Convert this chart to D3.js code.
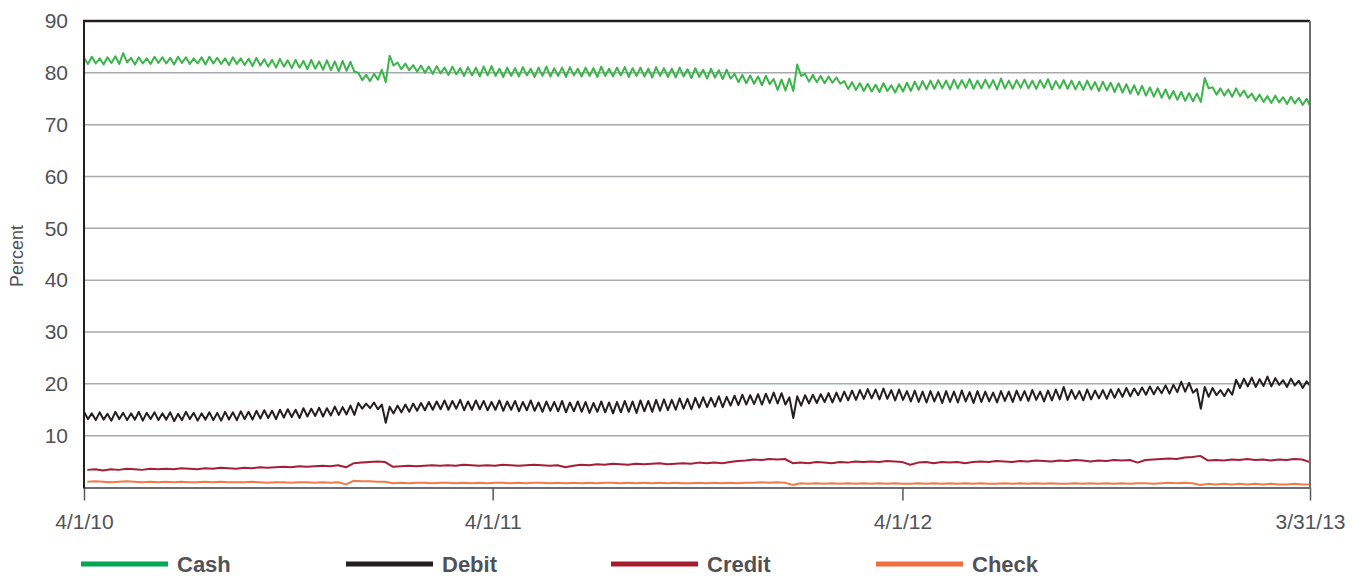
<!DOCTYPE html>
<html>
<head>
<meta charset="utf-8">
<script src="https://cdn.jsdelivr.net/npm/d3@7"></script>
<style>
  body { margin: 0; background: #fff; }
  svg text { font-family: "Liberation Sans Narrow", "Liberation Sans", sans-serif; fill: #505257; }
</style>
</head>
<body>
<div id="chart"></div>
<script>
// weekly readings, Apr 2010 - Mar 2013 (157 weeks)
// cash and debit: one high and one low per week
var cashHi = [
  82.9, 83.1, 82.8, 83.0, 83.2, 83.8, 82.9, 83.0, 82.8, 83.1,
  83.0, 82.9, 83.1, 83.0, 82.8, 83.0, 83.1, 82.9, 82.8, 83.0,
  82.8, 82.7, 82.9, 82.6, 82.5, 82.7, 82.4, 82.5, 82.3, 82.5,
  82.2, 82.4, 82.2, 82.3, 82.1, 80.0, 79.6, 79.8, 80.6, 83.3,
  82.0, 81.8, 81.5, 81.4, 81.2, 81.3, 81.0, 81.2, 80.9, 81.1,
  81.0, 81.2, 81.3, 80.8, 81.0, 80.9, 81.1, 80.8, 81.0, 81.2,
  80.9, 81.0, 81.1, 80.8, 81.0, 80.9, 81.2, 80.8, 81.0, 81.1,
  80.9, 81.0, 80.8, 81.1, 80.9, 80.8, 81.0, 80.7, 80.9, 80.6,
  80.8, 80.5, 80.6, 79.8, 79.6, 79.5, 79.3, 79.4, 78.8, 78.7,
  78.9, 81.6, 79.8, 79.6, 79.4, 79.3, 79.1, 78.4, 78.2, 78.0,
  77.9, 77.7, 78.0, 77.6, 77.8, 78.1, 78.3, 78.4, 78.5, 78.6,
  78.5, 78.7, 78.6, 78.8, 78.5, 78.7, 78.6, 78.9, 78.5, 78.6,
  78.7, 78.5, 78.6, 78.8, 78.4, 78.6, 78.5, 78.3, 78.5, 78.2,
  78.3, 78.1, 78.0, 77.8, 77.6, 77.5, 77.2, 77.0, 76.8, 76.5,
  76.3, 76.1, 76.0, 79.0, 77.2, 77.0, 76.8, 77.0, 76.6, 76.0,
  75.8, 75.5, 75.6, 75.3, 75.4, 75.2, 75.0
];
var cashLo = [
  81.7, 81.8, 81.6, 81.9, 81.7, 82.0, 81.6, 81.8, 81.7, 81.9,
  81.8, 81.6, 81.9, 81.7, 81.8, 81.6, 81.8, 81.7, 81.5, 81.7,
  81.5, 81.3, 81.4, 81.2, 81.0, 81.2, 80.9, 81.0, 80.7, 80.8,
  80.6, 80.5, 80.3, 80.4, 80.2, 78.6, 78.4, 78.7, 78.2, 81.4,
  80.7, 80.5, 80.2, 80.0, 79.8, 79.9, 79.6, 79.7, 79.4, 79.5,
  79.3, 79.5, 79.4, 79.2, 79.4, 79.3, 79.5, 79.2, 79.4, 79.3,
  79.4, 79.2, 79.5, 79.3, 79.4, 79.2, 79.4, 79.3, 79.5, 79.2,
  79.4, 79.3, 79.1, 79.4, 79.2, 79.1, 79.3, 79.0, 79.2, 78.9,
  79.1, 78.8, 78.9, 78.2, 78.0, 77.9, 77.6, 77.8, 76.7, 76.6,
  76.5, 79.4, 78.3, 78.2, 78.0, 78.1, 77.9, 76.9, 76.7, 76.5,
  76.4, 76.3, 76.5, 76.2, 76.4, 76.5, 76.7, 76.8, 76.9, 77.0,
  76.8, 77.0, 77.1, 76.9, 77.0, 77.1, 76.8, 77.0, 76.9, 77.1,
  77.0, 76.9, 77.1, 76.8, 77.0, 76.9, 76.8, 76.7, 76.8, 76.5,
  76.6, 76.3, 76.2, 76.0, 75.8, 75.6, 75.4, 75.2, 75.0, 74.8,
  74.6, 74.5, 74.4, 77.0, 75.8, 75.6, 75.4, 75.5, 75.2, 74.6,
  74.4, 74.2, 74.3, 74.0, 74.1, 73.8, 73.6
];
var debitHi = [
  14.6, 14.3, 14.5, 14.2, 14.6, 14.4, 14.3, 14.6, 14.4, 14.5,
  14.3, 14.5, 14.2, 14.6, 14.4, 14.3, 14.5, 14.4, 14.6, 14.5,
  14.7, 14.6, 14.8, 14.9, 14.8, 15.0, 15.1, 15.0, 15.3, 15.2,
  15.4, 15.3, 15.6, 15.5, 15.8, 16.3, 16.2, 16.4, 16.0, 15.6,
  15.8, 16.0, 16.2, 16.3, 16.5, 16.6, 16.8, 16.7, 16.9, 16.6,
  16.8, 16.7, 16.5, 16.8, 16.6, 16.7, 16.5, 16.8, 16.4, 16.6,
  16.5, 16.7, 16.4, 16.6, 16.5, 16.3, 16.6, 16.4, 16.5, 16.7,
  16.6, 16.8, 16.7, 16.9, 17.0, 16.9, 17.2, 17.1, 17.3, 17.4,
  17.3, 17.6, 17.5, 17.7, 17.9, 17.8, 18.0, 18.1, 18.3, 18.2,
  17.4, 17.6, 17.8, 17.9, 18.0, 18.2, 18.3, 18.5, 18.7, 18.8,
  19.0, 18.9, 19.1, 18.8, 18.9, 18.6, 18.7, 18.5, 18.6, 18.4,
  18.6, 18.5, 18.7, 18.4, 18.6, 18.5, 18.3, 18.6, 18.5, 18.7,
  18.6, 18.8, 18.5, 18.7, 18.9, 19.4, 18.8, 18.6, 18.9, 18.7,
  18.8, 18.9, 19.0, 19.2, 19.1, 19.3, 19.5, 19.4, 19.7, 19.8,
  20.4, 20.2, 19.0, 19.4, 19.2, 18.8, 19.0, 20.8, 21.0, 21.2,
  20.9, 21.4, 21.1, 20.7, 21.0, 20.6, 20.5
];
var debitLo = [
  13.2, 13.0, 13.1, 12.9, 13.2, 13.0, 13.1, 12.9, 13.2, 13.0,
  13.1, 12.8, 13.0, 13.2, 12.9, 13.1, 13.0, 12.9, 13.1, 13.0,
  13.2, 13.1, 13.3, 13.4, 13.2, 13.5, 13.6, 13.4, 13.7, 13.8,
  13.7, 13.9, 14.0, 14.1, 14.0, 15.2, 15.3, 15.1, 12.5, 14.3,
  14.5, 14.6, 14.8, 14.9, 15.0, 15.1, 15.0, 15.2, 14.9, 15.0,
  15.1, 14.9, 15.0, 14.8, 15.0, 14.7, 14.9, 14.8, 14.6, 14.8,
  14.7, 14.5, 14.7, 14.6, 14.4, 14.6, 14.5, 14.3, 14.5, 14.6,
  14.4, 14.7, 14.6, 14.8, 14.9, 15.0, 15.2, 15.1, 15.4, 15.5,
  15.6, 15.5, 15.8, 15.9, 16.0, 16.1, 16.0, 16.3, 16.2, 16.0,
  13.4, 15.8, 16.2, 16.3, 16.5, 16.4, 16.6, 16.8, 16.9, 17.1,
  17.2, 17.0, 17.1, 16.8, 16.9, 16.6, 16.5, 16.4, 16.6, 16.3,
  16.5, 16.4, 16.6, 16.3, 16.5, 16.6, 16.4, 16.7, 16.5, 16.8,
  16.7, 16.9, 16.6, 16.8, 17.0, 16.9, 17.1, 16.8, 17.0, 17.2,
  17.1, 17.3, 17.5, 17.6, 17.8, 17.9, 18.0, 18.2, 18.1, 18.4,
  18.5, 18.3, 15.2, 17.5, 17.8, 17.6, 17.9, 19.2, 19.5, 19.4,
  19.6, 19.5, 19.8, 19.4, 19.7, 19.2, 19.6
];
// credit and check: one reading per week
var credit = [
  3.4, 3.5, 3.3, 3.5, 3.4, 3.6, 3.5, 3.4, 3.6, 3.5,
  3.6, 3.5, 3.7, 3.6, 3.5, 3.7, 3.6, 3.8, 3.7, 3.6,
  3.8, 3.7, 3.9, 3.8, 3.9, 4.0, 3.9, 4.1, 4.0, 4.1,
  4.2, 4.1, 4.3, 3.9, 4.7, 4.8, 4.9, 5.0, 4.9, 4.0,
  4.1, 4.2, 4.1, 4.2, 4.3, 4.2, 4.3, 4.2, 4.4, 4.3,
  4.2, 4.3, 4.2, 4.4, 4.3, 4.2, 4.3, 4.4, 4.3, 4.2,
  4.3, 3.9, 4.2, 4.4, 4.3, 4.5, 4.4, 4.6, 4.5, 4.4,
  4.6, 4.5, 4.6, 4.7, 4.5, 4.6, 4.7, 4.6, 4.8, 4.7,
  4.8, 4.7, 4.9, 5.1, 5.2, 5.4, 5.3, 5.5, 5.4, 5.5,
  4.7, 4.8, 4.7, 4.9, 4.8, 4.7, 4.9, 4.8, 5.0, 4.9,
  5.0, 4.9, 5.1, 5.0, 4.9, 4.4, 4.8, 4.9, 4.7, 4.9,
  4.8, 4.9, 4.7, 4.9, 5.0, 4.9, 5.1, 5.0, 4.9, 5.1,
  5.0, 5.2, 5.1, 5.0, 5.2, 5.1, 5.3, 5.2, 5.0, 5.2,
  5.1, 5.3, 5.2, 5.3, 4.8, 5.3, 5.4, 5.5, 5.6, 5.5,
  5.8, 5.9, 6.1, 5.2, 5.3, 5.2, 5.4, 5.3, 5.5, 5.3,
  5.4, 5.2, 5.4, 5.3, 5.5, 5.4, 4.9
];
var check = [
  1.1, 1.2, 1.1, 1.0, 1.1, 1.2, 1.1, 1.0, 1.1, 1.0,
  1.1, 1.0, 1.1, 1.0, 1.0, 1.1, 1.0, 1.1, 1.0, 1.0,
  1.0, 1.1, 1.0, 0.9, 1.0, 1.0, 0.9, 1.0, 1.0, 0.9,
  1.0, 0.9, 1.0, 0.6, 1.3, 1.2, 1.2, 1.1, 1.1, 0.8,
  0.9, 0.8, 0.9, 0.9, 0.8, 0.9, 0.9, 0.8, 0.9, 0.8,
  0.9, 0.8, 0.9, 0.9, 0.8, 0.9, 0.8, 0.9, 0.9, 0.8,
  0.9, 0.8, 0.9, 0.8, 0.9, 0.8, 0.9, 0.9, 0.8, 0.9,
  0.8, 0.9, 0.8, 0.9, 0.8, 0.9, 0.8, 0.8, 0.9, 0.8,
  0.9, 0.8, 0.9, 0.8, 0.9, 0.9, 1.0, 0.9, 1.0, 0.9,
  0.5, 0.8, 0.7, 0.8, 0.7, 0.8, 0.7, 0.8, 0.7, 0.8,
  0.7, 0.8, 0.7, 0.8, 0.7, 0.7, 0.8, 0.7, 0.8, 0.7,
  0.8, 0.7, 0.8, 0.7, 0.8, 0.7, 0.7, 0.8, 0.7, 0.8,
  0.7, 0.8, 0.7, 0.8, 0.7, 0.7, 0.8, 0.7, 0.8, 0.7,
  0.8, 0.7, 0.8, 0.7, 0.8, 0.8, 0.7, 0.8, 0.9, 0.8,
  0.9, 0.8, 0.5, 0.7, 0.6, 0.7, 0.6, 0.7, 0.6, 0.7,
  0.6, 0.7, 0.6, 0.6, 0.7, 0.6, 0.6
];

var seriesNames = ["Cash", "Debit", "Credit", "Check"];
var lineColors = ["#3bb54a", "#231f20", "#a51d36", "#f4794a"];
var legendColors = ["#00a651", "#231f20", "#a51d2d", "#f26d3d"];
var yTickValues = [10, 20, 30, 40, 50, 60, 70, 80, 90];
var xTickDates = ["04/01/10", "04/01/11", "04/01/12", "03/31/13"];

var parseDate = d3.timeParse("%m/%d/%y");
var startDate = parseDate("04/01/10");
var endDate = parseDate("03/31/13");

function dayToDate(day) {
  var d = d3.timeHour.offset(startDate, Math.round(day * 24));
  return d > endDate ? endDate : d;
}

// hi at start of the week, lo half a week later
function zigzag(hi, lo) {
  var pts = [];
  for (var w = 0; w < hi.length; w++) {
    pts.push({date: dayToDate(w * 7), value: hi[w]});
    pts.push({date: dayToDate(w * 7 + 3.5), value: lo[w]});
  }
  return pts;
}
function weekly(vals) {
  return vals.map(function(v, w) { return {date: dayToDate(w * 7 + 3), value: v}; });
}

var series = [
  zigzag(cashHi, cashLo),
  zigzag(debitHi, debitLo),
  weekly(credit),
  weekly(check)
];

var W = 1354, H = 577;
// note: "top" is taken by window.top, so use plot* names
var plotLeft = 84, plotRight = 1310, plotTop = 21, plotBottom = 487.5;

var svg = d3.select("#chart").append("svg")
  .attr("width", W)
  .attr("height", H);

var x = d3.scaleTime().domain([startDate, endDate]).range([plotLeft, plotRight]);
var y = d3.scaleLinear().domain([0, 90]).range([plotBottom, plotTop]);

// gridlines
svg.append("g")
  .selectAll("line")
  .data(yTickValues.slice(0, -1))
  .enter().append("line")
  .attr("x1", plotLeft).attr("x2", plotRight)
  .attr("y1", function(d) { return y(d); })
  .attr("y2", function(d) { return y(d); })
  .attr("stroke", "#a7a9ac")
  .attr("stroke-width", 1.5);

// y labels
var yAxis = svg.append("g")
  .attr("transform", "translate(" + plotLeft + ",0)")
  .call(d3.axisLeft(y).tickValues(yTickValues).tickSize(0).tickPadding(16));
yAxis.select(".domain").remove();
yAxis.selectAll("text")
  .style("font-family", "'Liberation Sans', sans-serif")
  .style("font-size", "21px")
  .attr("fill", "#505257");

// x axis
var xAxis = svg.append("g")
  .attr("transform", "translate(0," + plotBottom + ")")
  .call(d3.axisBottom(x).tickValues(xTickDates.map(parseDate))
    .tickFormat(d3.timeFormat("%-m/%-d/%y"))
    .tickSize(13).tickPadding(14).tickSizeOuter(0));
xAxis.select(".domain").attr("stroke", "#6d6e71").attr("stroke-width", 2);
xAxis.selectAll(".tick line").attr("stroke", "#58595b").attr("stroke-width", 1.5);
xAxis.selectAll("text")
  .style("font-family", "'Liberation Sans', sans-serif")
  .style("font-size", "21px")
  .attr("fill", "#505257");

// lines
var line = d3.line()
  .x(function(d) { return x(d.date); })
  .y(function(d) { return y(d.value); });

svg.append("g")
  .selectAll("path")
  .data(series.slice().reverse())
  .enter().append("path")
  .attr("d", line)
  .attr("fill", "none")
  .attr("stroke", function(d, i) { return lineColors[3 - i]; })
  .attr("stroke-width", 2)
  .attr("stroke-linejoin", "round");

// frame: top and left black, right grey
svg.append("line").attr("x1", plotLeft - 1).attr("x2", plotRight).attr("y1", plotTop).attr("y2", plotTop)
  .attr("stroke", "#231f20").attr("stroke-width", 2.5);
svg.append("line").attr("x1", plotLeft).attr("x2", plotLeft).attr("y1", plotTop).attr("y2", plotBottom + 1)
  .attr("stroke", "#231f20").attr("stroke-width", 2);
svg.append("line").attr("x1", plotRight).attr("x2", plotRight).attr("y1", plotTop).attr("y2", plotBottom + 1)
  .attr("stroke", "#6d6e71").attr("stroke-width", 2);

// y title
svg.append("text")
  .attr("transform", "translate(23,256) rotate(-90)")
  .attr("text-anchor", "middle")
  .style("font-family", "'Liberation Sans', sans-serif")
  .style("font-size", "18px")
  .text("Percent");

// legend
var legend = svg.append("g").selectAll("g")
  .data(seriesNames)
  .enter().append("g")
  .attr("transform", function(d, i) { return "translate(" + (81 + i * 265) + ",564)"; });
legend.append("line")
  .attr("x1", 0).attr("x2", 87)
  .attr("stroke", function(d, i) { return legendColors[i]; })
  .attr("stroke-width", 5);
legend.append("text")
  .attr("x", 96)
  .attr("dy", "0.36em")
  .style("font-size", "22px")
  .style("font-weight", "bold")
  .text(function(d) { return d; });
</script>
</body>
</html>
